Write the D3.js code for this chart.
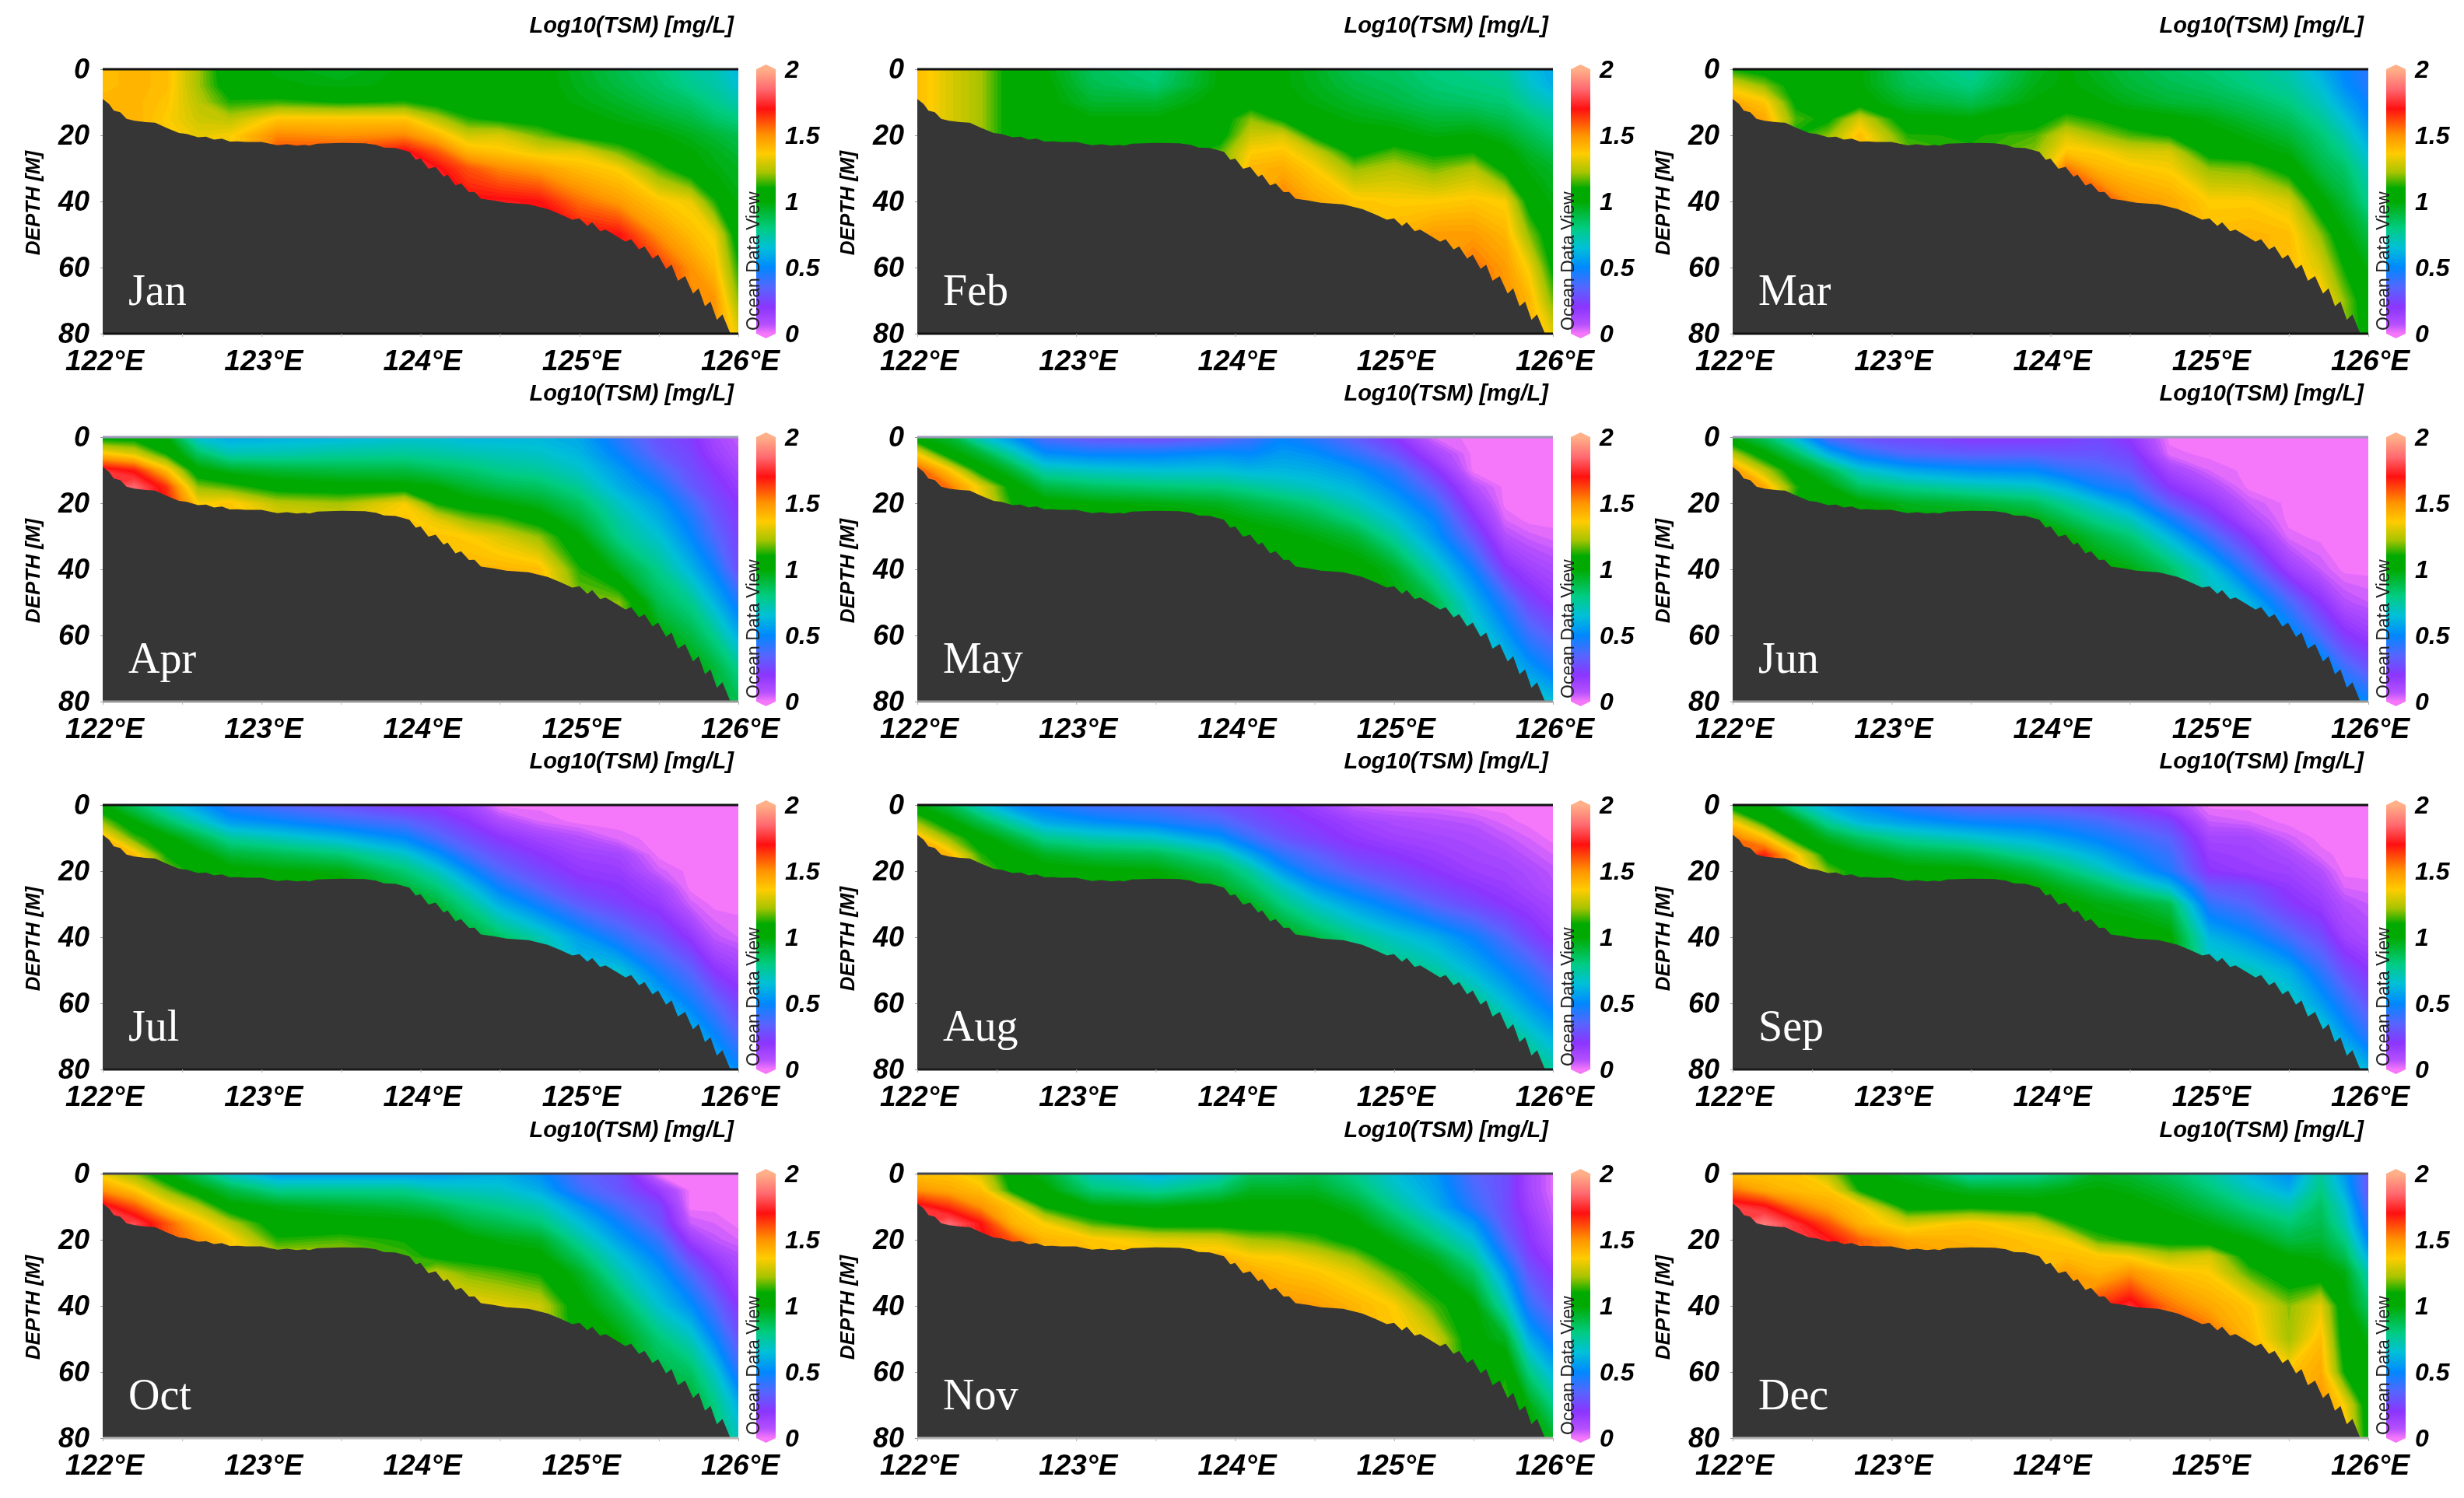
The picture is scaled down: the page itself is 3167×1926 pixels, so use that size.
<!DOCTYPE html>
<html>
<head>
<meta charset="utf-8">
<script src="https://cdn.jsdelivr.net/npm/d3@7"></script>
<style>
  html, body { margin: 0; background: #fff; }
  svg { display: block; filter: blur(0.6px); }
</style>
</head>
<body>
<script>
// Month names, reading order
var months = ["Jan", "Feb", "Mar", "Apr", "May", "Jun", "Jul", "Aug", "Sep", "Oct", "Nov", "Dec"];

// Section grid: longitude nodes and depth levels
var gridLon = [122, 122.2, 122.4, 122.6, 122.8, 123.1, 123.5, 123.9, 124.1, 124.3, 124.5, 124.75, 125, 125.25, 125.5, 125.7, 125.85, 126];
var gridDepth = [0, 5, 10, 15, 20, 25, 30, 40, 50, 60, 70, 80];

// Sea floor
var bathyLon = [122, 122.04, 122.07, 122.11, 122.15, 122.2, 122.27, 122.33, 122.4, 122.48, 122.53, 122.6, 122.65, 122.7, 122.75, 122.8, 122.85, 122.9, 123, 123.05, 123.1, 123.16, 123.22, 123.27, 123.3, 123.35, 123.5, 123.65, 123.72, 123.77, 123.84, 123.93, 123.97, 124, 124.05, 124.095, 124.145, 124.17, 124.22, 124.255, 124.305, 124.34, 124.38, 124.46, 124.54, 124.68, 124.8, 124.88, 124.955, 125, 125.05, 125.08, 125.13, 125.165, 125.23, 125.29, 125.325, 125.375, 125.41, 125.46, 125.495, 125.545, 125.58, 125.62, 125.665, 125.715, 125.75, 125.79, 125.825, 125.865, 125.9, 125.95, 126];
var bathyDepth = [9, 10.5, 12.5, 13, 15, 15.6, 16, 16.2, 17.7, 19.3, 19.6, 20.6, 20.4, 21.3, 21, 21.9, 21.8, 22, 22, 22.5, 23, 22.7, 23.1, 22.9, 23.1, 22.5, 22.3, 22.4, 22.9, 23.7, 23.8, 25, 27.4, 27, 30.1, 29.5, 32.5, 31.9, 35.2, 34.5, 37.2, 37.1, 39.2, 39.7, 40.4, 40.9, 42.3, 43.9, 45.5, 45.1, 47.4, 46.3, 49, 48.5, 50.4, 52.2, 51.4, 54.5, 53.6, 57.3, 56.1, 60.4, 59.1, 64, 62.6, 67.9, 66.3, 71.7, 70.3, 75.8, 74.2, 80, 80];

// Log10(TSM), one list per longitude node, top down to just below the floor
var tsmJan = [
  [1.40, 1.40, 1.42],
  [1.42, 1.42, 1.42, 1.43],
  [1.40, 1.40, 1.38, 1.36, 1.38],
  [1.22, 1.22, 1.25, 1.28, 1.32],
  [1.02, 1.04, 1.12, 1.25, 1.35],
  [.98, 1.00, 1.14, 1.38, 1.52, 1.62],
  [.95, .98, 1.10, 1.38, 1.50, 1.62],
  [1.00, 1.00, 1.12, 1.38, 1.52, 1.72],
  [1.02, 1.02, 1.06, 1.25, 1.42, 1.60, 1.72],
  [1.03, 1.03, 1.04, 1.12, 1.28, 1.42, 1.60, 1.72],
  [1.03, 1.03, 1.03, 1.08, 1.30, 1.38, 1.52, 1.72],
  [1.02, 1.02, 1.02, 1.05, 1.18, 1.32, 1.47, 1.70],
  [.95, .96, .98, 1.02, 1.08, 1.32, 1.40, 1.56, 1.72],
  [.88, .90, .94, .98, 1.03, 1.18, 1.35, 1.48, 1.70],
  [.82, .84, .88, .94, 1.00, 1.04, 1.15, 1.38, 1.50, 1.65],
  [.75, .78, .84, .90, .96, 1.00, 1.02, 1.33, 1.40, 1.50, 1.52],
  [.72, .74, .78, .84, .92, .96, .98, 1.12, 1.34, 1.40, 1.50],
  [.62, .66, .72, .80, .88, .92, .95, .98, 1.03, 1.12, 1.20, 1.32]
];
var tsmFeb = [
  [1.40, 1.40, 1.40],
  [1.30, 1.30, 1.30, 1.30],
  [1.22, 1.22, 1.22, 1.22, 1.22],
  [1.05, 1.05, 1.05, 1.05, 1.05],
  [1.00, 1.02, 1.02, 1.03, 1.03],
  [.86, .88, .93, 1.00, 1.02],
  [.80, .83, .93, 1.00, 1.02],
  [1.00, 1.00, 1.02, 1.04, 1.05, 1.15],
  [1.02, 1.02, 1.04, 1.20, 1.28, 1.36, 1.42],
  [1.00, 1.00, 1.02, 1.08, 1.30, 1.38, 1.44, 1.55],
  [.95, .96, .98, 1.02, 1.08, 1.28, 1.36, 1.45],
  [.87, .90, .94, .98, 1.03, 1.06, 1.20, 1.38],
  [.85, .87, .90, .96, 1.02, 1.15, 1.25, 1.36, 1.42],
  [.80, .82, .86, .92, .98, 1.08, 1.18, 1.36, 1.48],
  [.78, .80, .84, .92, 1.00, 1.10, 1.24, 1.38, 1.48, 1.56],
  [.75, .78, .82, .88, .95, 1.02, 1.06, 1.35, 1.42, 1.48, 1.50],
  [.65, .68, .74, .82, .88, .94, .98, 1.06, 1.20, 1.34, 1.42],
  [.58, .60, .68, .76, .82, .88, .94, .98, 1.02, 1.08, 1.18, 1.32]
];
var tsmMar = [
  [1.10, 1.32, 1.45],
  [1.05, 1.20, 1.38, 1.45],
  [1.05, 1.05, 1.08, 1.15, 1.10],
  [1.03, 1.03, 1.02, 1.08, 1.20],
  [1.00, 1.00, 1.03, 1.30, 1.40],
  [.85, .87, .93, 1.02, 1.12, 1.18],
  [.76, .80, .88, 1.00, 1.10, 1.12],
  [.95, .97, 1.00, 1.04, 1.15, 1.20],
  [1.00, 1.00, 1.02, 1.15, 1.30, 1.38, 1.55],
  [.95, .97, 1.00, 1.10, 1.22, 1.36, 1.42, 1.65],
  [.90, .92, .96, 1.03, 1.15, 1.30, 1.38, 1.50],
  [.85, .88, .92, 1.02, 1.10, 1.30, 1.35, 1.45],
  [.82, .85, .90, .98, 1.02, 1.05, 1.20, 1.36, 1.40],
  [.78, .80, .86, .92, .98, 1.02, 1.18, 1.36, 1.42],
  [.72, .75, .80, .86, .92, .98, 1.05, 1.30, 1.40, 1.40],
  [.60, .65, .70, .76, .82, .86, .90, 1.02, 1.20, 1.30, 1.40],
  [.50, .52, .58, .65, .72, .78, .84, .92, 1.00, 1.10, 1.20],
  [.42, .44, .48, .52, .58, .64, .70, .78, .90, .98, 1.02, 1.05]
];
var tsmApr = [
  [1.05, 1.38, 1.75],
  [1.05, 1.30, 1.68, 1.85],
  [1.00, 1.10, 1.40, 1.65, 1.70],
  [.65, .85, 1.02, 1.20, 1.35],
  [.58, .72, .95, 1.15, 1.38],
  [.60, .72, .92, 1.05, 1.25, 1.32],
  [.62, .75, .90, 1.03, 1.22, 1.30],
  [.65, .76, .90, 1.02, 1.35, 1.38],
  [.65, .74, .86, 1.00, 1.10, 1.32, 1.38],
  [.62, .72, .83, .93, 1.03, 1.20, 1.36, 1.42],
  [.62, .70, .78, .88, 1.00, 1.15, 1.30, 1.42],
  [.62, .68, .75, .85, .95, 1.05, 1.20, 1.40],
  [.58, .62, .68, .76, .85, .92, 1.00, 1.12, 1.20],
  [.42, .48, .55, .60, .68, .74, .78, .95, 1.20],
  [.28, .32, .40, .48, .55, .60, .66, .78, .88, 1.00],
  [.22, .25, .28, .32, .40, .46, .50, .62, .78, .90, 1.00],
  [.12, .15, .20, .24, .28, .32, .36, .48, .62, .78, .92],
  [.05, .08, .12, .16, .20, .22, .24, .28, .45, .60, .78, .88]
];
var tsmMay = [
  [1.00, 1.35, 1.60],
  [.92, 1.03, 1.38, 1.55],
  [.68, .92, 1.05, 1.32, 1.35],
  [.52, .72, .92, 1.05, 1.10],
  [.35, .52, .72, .90, 1.03],
  [.28, .48, .68, .85, 1.00, 1.03],
  [.25, .48, .65, .82, .98, 1.03],
  [.30, .52, .65, .80, .95, 1.03],
  [.38, .50, .62, .76, .90, .98, 1.03],
  [.48, .55, .62, .72, .85, .95, 1.02, 1.05],
  [.42, .52, .60, .68, .80, .90, .98, 1.07],
  [.32, .42, .54, .62, .70, .80, .92, 1.05],
  [.20, .30, .42, .50, .58, .66, .75, .95, 1.00],
  [.03, .12, .22, .32, .42, .50, .55, .72, .90],
  [0, 0, 0, .08, .15, .22, .30, .48, .62, .72],
  [0, 0, 0, 0, 0, .03, .08, .22, .42, .55, .66],
  [0, 0, 0, 0, 0, 0, .04, .14, .26, .40, .55, .70],
  [0, 0, 0, 0, 0, 0, .02, .10, .18, .32, .46, .65]
];
var tsmJun = [
  [.98, 1.25, 1.50],
  [.85, 1.02, 1.25, 1.45],
  [.62, .85, 1.02, 1.12, 1.10],
  [.35, .60, .88, 1.00, 1.05],
  [.28, .45, .68, .85, 1.02],
  [.25, .35, .58, .78, .95, 1.00],
  [.20, .32, .52, .72, .92, 1.00],
  [.20, .32, .50, .68, .86, .98],
  [.22, .30, .42, .60, .76, .88, 1.00],
  [.25, .30, .38, .48, .66, .78, .90, 1.03],
  [.18, .25, .32, .42, .55, .70, .82, .98],
  [0, .02, .12, .20, .32, .48, .62, .85, .90],
  [0, 0, .03, .10, .18, .28, .40, .65, .72],
  [0, 0, 0, 0, .05, .10, .20, .40, .62, .65],
  [0, 0, 0, 0, 0, 0, .02, .15, .38, .55],
  [0, 0, 0, 0, 0, 0, 0, .05, .20, .36, .60],
  [0, 0, 0, 0, 0, 0, 0, 0, .08, .22, .40, .55],
  [0, 0, 0, 0, 0, 0, 0, 0, .05, .16, .30, .50]
];
var tsmJul = [
  [1.00, 1.20, 1.42],
  [.85, 1.00, 1.15, 1.40],
  [.68, .85, 1.03, 1.10, 1.20],
  [.55, .70, .90, 1.03, 1.06],
  [.42, .55, .76, .92, 1.03],
  [.35, .50, .70, .88, 1.00],
  [.28, .42, .62, .82, .98, 1.02],
  [.20, .35, .50, .68, .82, .92],
  [.18, .28, .38, .54, .70, .82, .92],
  [.12, .20, .28, .38, .52, .66, .78, .95],
  [0, .10, .20, .28, .36, .48, .60, .85],
  [0, .03, .13, .20, .26, .34, .46, .72, .80],
  [0, 0, .08, .14, .18, .24, .32, .56, .66],
  [0, 0, .02, .12, .16, .20, .24, .42, .66, .70],
  [0, 0, 0, 0, .04, .12, .17, .30, .46, .62],
  [0, 0, 0, 0, 0, 0, .04, .18, .34, .48, .64],
  [0, 0, 0, 0, 0, 0, 0, .06, .20, .36, .50, .65],
  [0, 0, 0, 0, 0, 0, 0, .03, .14, .25, .36, .50]
];
var tsmAug = [
  [1.00, 1.20, 1.42],
  [.88, 1.02, 1.20, 1.42],
  [.68, .88, 1.03, 1.12, 1.20],
  [.52, .72, .92, 1.03, 1.06],
  [.45, .58, .78, .95, 1.03],
  [.38, .52, .72, .90, 1.02, 1.03],
  [.35, .46, .68, .88, 1.00, 1.03],
  [.28, .38, .54, .75, .88, .96],
  [.24, .30, .40, .58, .75, .85, .95],
  [.20, .24, .30, .42, .55, .70, .80, 1.00],
  [.14, .20, .24, .34, .42, .55, .68, .90],
  [.04, .14, .18, .24, .32, .44, .56, .78, .85],
  [.02, .10, .14, .20, .26, .34, .46, .68, .82],
  [.02, .08, .12, .16, .20, .26, .34, .60, .75, .80],
  [0, .06, .10, .12, .15, .20, .26, .48, .62, .80],
  [0, .02, .06, .10, .13, .16, .20, .36, .50, .65, .82],
  [0, 0, .03, .06, .10, .12, .16, .26, .42, .54, .70, .85],
  [0, 0, 0, .03, .06, .08, .12, .18, .32, .45, .60, .75]
];
var tsmSep = [
  [1.02, 1.35, 1.55],
  [1.00, 1.08, 1.40, 1.68],
  [.75, .98, 1.05, 1.38, 1.45],
  [.58, .75, .95, 1.05, 1.18],
  [.50, .62, .85, 1.00, 1.05],
  [.40, .55, .75, .92, 1.03],
  [.32, .48, .68, .88, 1.02, 1.03],
  [.30, .45, .60, .75, .92, 1.02],
  [.28, .42, .54, .68, .82, .95, 1.02],
  [.25, .38, .48, .60, .72, .88, .98, 1.03],
  [.20, .32, .42, .50, .60, .78, .95, 1.05],
  [.12, .25, .34, .40, .45, .65, .88, 1.02],
  [0, .05, .12, .16, .20, .32, .42, .62, .72],
  [0, .03, .12, .14, .16, .28, .34, .52, .70],
  [0, 0, .04, .10, .14, .18, .22, .38, .60, .70],
  [0, 0, 0, .02, .08, .12, .16, .28, .42, .56, .72],
  [0, 0, 0, 0, 0, .03, .08, .14, .28, .42, .56, .72],
  [0, 0, 0, 0, 0, .02, .05, .10, .20, .30, .42, .62]
];
var tsmOct = [
  [1.32, 1.50, 1.75],
  [1.20, 1.38, 1.60, 1.80],
  [1.00, 1.20, 1.38, 1.60, 1.60],
  [.85, 1.02, 1.25, 1.40, 1.50],
  [.68, .90, 1.03, 1.25, 1.38],
  [.55, .78, .98, 1.03, 1.12, 1.25],
  [.55, .78, .95, 1.03, 1.15, 1.25],
  [.55, .78, .92, 1.02, 1.10, 1.15],
  [.55, .72, .88, 1.00, 1.03, 1.08, 1.25],
  [.58, .70, .82, .92, 1.02, 1.06, 1.18, 1.35],
  [.60, .68, .78, .88, .98, 1.03, 1.15, 1.32],
  [.52, .60, .72, .82, .95, 1.02, 1.10, 1.28],
  [.35, .40, .55, .65, .75, .85, .95, 1.03, 1.05],
  [.28, .30, .38, .48, .56, .65, .72, .88, 1.00],
  [0, .16, .26, .30, .40, .48, .55, .66, .82, .90],
  [0, 0, 0, .05, .15, .26, .36, .52, .70, .85, .95],
  [0, 0, 0, .03, .06, .15, .22, .36, .50, .68, .80, .85],
  [0, 0, 0, 0, .03, .08, .12, .20, .30, .42, .60, .70]
];
var tsmNov = [
  [1.38, 1.50, 1.75],
  [1.38, 1.45, 1.65, 1.85],
  [1.30, 1.40, 1.50, 1.70, 1.72],
  [1.03, 1.08, 1.38, 1.42, 1.60],
  [.95, 1.02, 1.10, 1.35, 1.42],
  [.70, .82, 1.00, 1.15, 1.38, 1.40],
  [.60, .76, .98, 1.05, 1.32, 1.38],
  [.70, .85, 1.02, 1.05, 1.30, 1.42],
  [.85, .95, 1.02, 1.04, 1.22, 1.36, 1.45],
  [.85, .95, 1.02, 1.04, 1.20, 1.35, 1.40, 1.50],
  [.88, .95, 1.02, 1.04, 1.15, 1.30, 1.38, 1.48],
  [.78, .85, .95, 1.02, 1.05, 1.20, 1.32, 1.42],
  [.65, .70, .78, .88, .98, 1.03, 1.15, 1.36, 1.38],
  [.55, .58, .62, .72, .82, .95, 1.02, 1.15, 1.30],
  [.35, .38, .42, .55, .65, .75, .86, 1.02, 1.02, 1.05],
  [.28, .28, .28, .30, .36, .45, .55, .72, .95, 1.10, 1.15],
  [.12, .12, .14, .18, .20, .24, .30, .42, .60, .80, .98, 1.02],
  [.02, .02, .04, .06, .10, .14, .20, .30, .45, .62, .80, .95]
];
var tsmDec = [
  [1.38, 1.55, 1.78],
  [1.38, 1.45, 1.72, 1.88],
  [1.38, 1.40, 1.55, 1.75, 1.78],
  [1.25, 1.38, 1.45, 1.60, 1.72],
  [1.02, 1.10, 1.38, 1.42, 1.58],
  [.95, 1.02, 1.06, 1.30, 1.45, 1.50],
  [.75, .95, 1.08, 1.38, 1.42, 1.45],
  [.78, .95, 1.04, 1.30, 1.38, 1.40],
  [.85, .98, 1.03, 1.12, 1.35, 1.40, 1.48],
  [.95, 1.00, 1.03, 1.05, 1.15, 1.38, 1.42, 1.65],
  [.92, .98, 1.02, 1.03, 1.10, 1.35, 1.50, 1.75],
  [.85, .92, .98, 1.02, 1.05, 1.25, 1.40, 1.55],
  [.75, .82, .90, .98, 1.03, 1.30, 1.36, 1.45, 1.60],
  [.62, .70, .80, .90, 1.00, 1.05, 1.15, 1.38, 1.42],
  [.52, .60, .72, .82, .90, 1.00, 1.02, 1.20, 1.22, 1.38],
  [.75, .80, .85, .88, .92, .98, 1.02, 1.32, 1.40, 1.45, 1.50],
  [.55, .60, .68, .72, .80, .88, .98, 1.02, 1.04, 1.10, 1.35, 1.40],
  [.30, .30, .35, .42, .50, .60, .72, .85, .98, 1.02, 1.03, 1.05]
];
var tsmByMonth = [tsmJan, tsmFeb, tsmMar, tsmApr, tsmMay, tsmJun, tsmJul, tsmAug, tsmSep, tsmOct, tsmNov, tsmDec];

// Colour bar
var colorStops = [0, 0.07, 0.2, 0.35, 0.5, 0.65, 0.8, 1.0, 1.1, 1.22, 1.36, 1.5, 1.7, 1.85, 2];
var colorValues = ["#f577fa", "#b650ff", "#8b35ff", "#5566ff", "#0088ff", "#00c0d8", "#00cc80", "#00aa00", "#00aa00", "#a8c400", "#ffcc00", "#ff9400", "#ff1010", "#ff6a70", "#ffb088"];

var lonTicks = [122, 123, 124, 125, 126];
var lonMinorTicks = [122.5, 123.5, 124.5, 125.5];
var depthTicks = [0, 20, 40, 60, 80];
var barTicks = [0, 0.5, 1, 1.5, 2];

// Page layout
var colLeft = [132, 1179, 2227];
var rowTop = [89, 562, 1035, 1509];
var plotWidth = 817;
var plotHeight = 340;

// The frame lines fade differently from row to row in the original
var topLineColor = ["#111", "#9a9ab8", "#111", "#445"];
var bottomLineColor = ["#111", "#999", "#1a1a1a", "#b8b8b8"];

var svg = d3.select("body").append("svg")
  .attr("width", 3167)
  .attr("height", 1926);

var color = d3.scaleLinear().domain(colorStops).range(colorValues).clamp(true);

var gradient = svg.append("defs").append("linearGradient")
  .attr("id", "barFill")
  .attr("x1", 0).attr("x2", 0).attr("y1", 1).attr("y2", 0);
colorStops.forEach(function(s) {
  gradient.append("stop").attr("offset", s / 2).attr("stop-color", color(s));
});

// d3.contours works in grid index space, these two go back to real units
var lonOfIndex = d3.scaleLinear().domain(d3.range(gridLon.length)).range(gridLon).clamp(true);
var depthOfIndex = d3.scaleLinear().domain(d3.range(gridDepth.length)).range(gridDepth).clamp(true);

var levels = d3.range(0.01, 2, 0.02);
var contours = d3.contours().size([gridLon.length, gridDepth.length]).thresholds(levels);

// Lists stop just below the floor, the last value carries down under the ground
function flattenGrid(columns) {
  var values = [];
  for (var j = 0; j < gridDepth.length; j++) {
    for (var i = 0; i < gridLon.length; i++) {
      var col = columns[i];
      values.push(j < col.length ? col[j] : col[col.length - 1]);
    }
  }
  return values;
}

function drawPanel(index) {
  var col = index % 3;
  var row = Math.floor(index / 3);
  var left = colLeft[col];
  var top = rowTop[row];
  var right = left + plotWidth;
  var bottom = top + plotHeight;

  var x = d3.scaleLinear().domain([122, 126]).range([left, right]);
  var y = d3.scaleLinear().domain([0, 80]).range([top, bottom]);
  var barY = d3.scaleLinear().domain([0, 2]).range([bottom, top]);

  var panel = svg.append("g").attr("class", "panel-" + months[index]);

  panel.append("rect")
    .attr("x", left).attr("y", top)
    .attr("width", plotWidth).attr("height", plotHeight)
    .attr("fill", color(0));

  var toPixels = d3.geoTransform({
    point: function(px, py) {
      this.stream.point(x(lonOfIndex(px - 0.5)), y(depthOfIndex(py - 0.5)));
    }
  });
  var path = d3.geoPath().projection(toPixels);

  panel.append("g")
    .selectAll("path")
    .data(contours(flattenGrid(tsmByMonth[index])))
    .join("path")
    .attr("d", path)
    .attr("fill", function(d) { return color(d.value + 0.01); });

  // Sea floor
  var area = d3.area()
    .x(function(d) { return x(d); })
    .y0(y(80))
    .y1(function(d, i) { return y(bathyDepth[i]); });
  panel.append("path")
    .datum(bathyLon)
    .attr("d", area)
    .attr("fill", "#363636");

  // Frame
  panel.append("line")
    .attr("x1", left).attr("x2", right).attr("y1", top).attr("y2", top)
    .attr("stroke", topLineColor[row]).attr("stroke-width", 3);
  panel.append("line")
    .attr("x1", left).attr("x2", right).attr("y1", bottom).attr("y2", bottom)
    .attr("stroke", bottomLineColor[row]).attr("stroke-width", 3);

  // Axes
  var xAxis = d3.axisBottom(x)
    .tickValues(lonTicks)
    .tickSize(4)
    .tickPadding(17)
    .tickFormat(function(d) { return d + "°E"; });
  var xGroup = panel.append("g")
    .attr("transform", "translate(0," + bottom + ")")
    .call(xAxis);
  xGroup.select(".domain").remove();
  xGroup.selectAll("line").attr("stroke", "#aaa");
  xGroup.selectAll("text")
    .attr("dx", 2)
    .attr("fill", "#000")
    .style("font", "italic bold 37px 'Liberation Sans'");

  var xMinor = d3.axisBottom(x).tickValues(lonMinorTicks).tickSize(4).tickFormat("");
  var minorGroup = panel.append("g")
    .attr("transform", "translate(0," + bottom + ")")
    .call(xMinor);
  minorGroup.select(".domain").remove();
  minorGroup.selectAll("line").attr("stroke", "#bbb");

  var yAxis = d3.axisLeft(y)
    .tickValues(depthTicks)
    .tickSize(3)
    .tickPadding(14);
  var yGroup = panel.append("g")
    .attr("transform", "translate(" + left + ",0)")
    .call(yAxis);
  yGroup.select(".domain").remove();
  yGroup.selectAll("line").attr("stroke", "#999");
  yGroup.selectAll("text")
    .attr("fill", "#000")
    .style("font", "italic bold 36px 'Liberation Sans'");

  panel.append("text")
    .attr("transform", "translate(" + (left - 81) + "," + (top + plotHeight / 2 + 2) + ") rotate(-90)")
    .attr("text-anchor", "middle")
    .style("font", "italic bold 26px 'Liberation Sans'")
    .text("DEPTH [M]");

  // Colour bar with its pointed ends
  var barLeft = right + 23;
  var barRight = right + 48;
  var barMid = (barLeft + barRight) / 2;
  panel.append("path")
    .attr("d", d3.line()([[barLeft, barY(2)], [barMid, barY(2) - 6], [barRight, barY(2)]]))
    .attr("fill", color(2));
  panel.append("path")
    .attr("d", d3.line()([[barLeft, barY(0)], [barMid, barY(0) + 6], [barRight, barY(0)]]))
    .attr("fill", color(0));
  panel.append("rect")
    .attr("x", barLeft).attr("y", top)
    .attr("width", barRight - barLeft).attr("height", plotHeight)
    .attr("fill", "url(#barFill)");

  var barAxis = d3.axisRight(barY)
    .tickValues(barTicks)
    .tickSize(0)
    .tickPadding(12)
    .tickFormat(function(d) { return String(d); });
  var barGroup = panel.append("g")
    .attr("transform", "translate(" + barRight + ",0)")
    .call(barAxis);
  barGroup.select(".domain").remove();
  barGroup.selectAll("text")
    .attr("fill", "#000")
    .style("font", "italic bold 32px 'Liberation Sans'");

  panel.append("text")
    .attr("transform", "translate(" + (right + 27) + "," + (bottom - 4) + ") rotate(-90)")
    .attr("fill", "#222")
    .style("font", "23px 'Liberation Sans'")
    .text("Ocean Data View");

  panel.append("text")
    .attr("x", right - 6)
    .attr("y", top - 47)
    .attr("text-anchor", "end")
    .style("font", "italic bold 29px 'Liberation Sans'")
    .text("Log10(TSM) [mg/L]");

  panel.append("text")
    .attr("x", left + 33)
    .attr("y", bottom - 37)
    .attr("fill", "#fff")
    .style("font", "56px 'Liberation Serif'")
    .text(months[index]);
}

for (var m = 0; m < months.length; m++) {
  drawPanel(m);
}
</script>
</body>
</html>
